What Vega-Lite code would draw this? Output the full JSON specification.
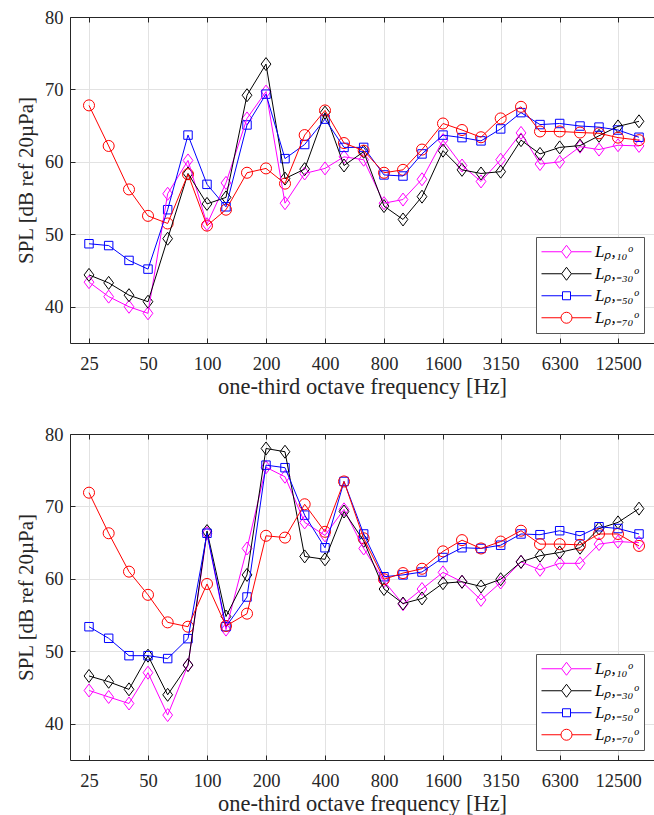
{
  "$schema": "https://vega.github.io/schema/vega-lite/v6.json",
  "padding": {"left": 15, "top": 8, "right": 0, "bottom": 0},
  "background": "white",
  "config": {
    "font": "Liberation Serif",
    "view": {"stroke": null},
    "axis": {
      "labelFont": "Liberation Serif", "labelFontSize": 18.5, "labelColor": "#262626",
      "titleFont": "Liberation Serif", "titleFontWeight": "normal", "titleColor": "#262626",
      "domainColor": "#262626", "domainWidth": 1, "tickColor": "#262626", "tickWidth": 1,
      "gridColor": "#e2e2e2", "gridWidth": 1, "labelOverlap": false, "labelFlush": false
    },
    "legend": {
      "orient": "bottom-right", "offset": 10, "padding": 5,
      "fillColor": "white", "strokeColor": "#555555", "strokeWidth": 1,
      "symbolSize": 2500, "symbolStrokeWidth": 1, "symbolOffset": 0,
      "labelFont": "Liberation Serif", "labelFontSize": 17, "labelFontStyle": "italic", "labelColor": "#000000",
      "labelOffset": 3, "clipHeight": 19.5, "rowPadding": 2
    }
  },
  "data": {"values": [
    {"p":"a","s":"Lₚ,₁₀ᵒ","f":25,"v":43.4},{"p":"a","s":"Lₚ,₁₀ᵒ","f":31.5,"v":41.4},{"p":"a","s":"Lₚ,₁₀ᵒ","f":40,"v":40.0},{"p":"a","s":"Lₚ,₁₀ᵒ","f":50,"v":39.1},{"p":"a","s":"Lₚ,₁₀ᵒ","f":63,"v":55.6},{"p":"a","s":"Lₚ,₁₀ᵒ","f":80,"v":60.2},{"p":"a","s":"Lₚ,₁₀ᵒ","f":100,"v":51.4},{"p":"a","s":"Lₚ,₁₀ᵒ","f":125,"v":57.1},{"p":"a","s":"Lₚ,₁₀ᵒ","f":160,"v":66.0},{"p":"a","s":"Lₚ,₁₀ᵒ","f":200,"v":69.7},{"p":"a","s":"Lₚ,₁₀ᵒ","f":250,"v":54.3},{"p":"a","s":"Lₚ,₁₀ᵒ","f":315,"v":58.4},{"p":"a","s":"Lₚ,₁₀ᵒ","f":400,"v":59.1},{"p":"a","s":"Lₚ,₁₀ᵒ","f":500,"v":60.7},{"p":"a","s":"Lₚ,₁₀ᵒ","f":630,"v":60.3},{"p":"a","s":"Lₚ,₁₀ᵒ","f":800,"v":54.3},{"p":"a","s":"Lₚ,₁₀ᵒ","f":1000,"v":54.8},{"p":"a","s":"Lₚ,₁₀ᵒ","f":1250,"v":57.6},{"p":"a","s":"Lₚ,₁₀ᵒ","f":1600,"v":63.0},{"p":"a","s":"Lₚ,₁₀ᵒ","f":2000,"v":59.5},{"p":"a","s":"Lₚ,₁₀ᵒ","f":2500,"v":57.3},{"p":"a","s":"Lₚ,₁₀ᵒ","f":3150,"v":60.3},{"p":"a","s":"Lₚ,₁₀ᵒ","f":4000,"v":64.0},{"p":"a","s":"Lₚ,₁₀ᵒ","f":5000,"v":59.7},{"p":"a","s":"Lₚ,₁₀ᵒ","f":6300,"v":60.0},{"p":"a","s":"Lₚ,₁₀ᵒ","f":8000,"v":62.1},{"p":"a","s":"Lₚ,₁₀ᵒ","f":10000,"v":61.7},{"p":"a","s":"Lₚ,₁₀ᵒ","f":12500,"v":62.3},{"p":"a","s":"Lₚ,₁₀ᵒ","f":16000,"v":62.2},
    {"p":"a","s":"Lₚ,₋₃₀ᵒ","f":25,"v":44.4},{"p":"a","s":"Lₚ,₋₃₀ᵒ","f":31.5,"v":43.3},{"p":"a","s":"Lₚ,₋₃₀ᵒ","f":40,"v":41.6},{"p":"a","s":"Lₚ,₋₃₀ᵒ","f":50,"v":40.7},{"p":"a","s":"Lₚ,₋₃₀ᵒ","f":63,"v":49.4},{"p":"a","s":"Lₚ,₋₃₀ᵒ","f":80,"v":58.4},{"p":"a","s":"Lₚ,₋₃₀ᵒ","f":100,"v":54.2},{"p":"a","s":"Lₚ,₋₃₀ᵒ","f":125,"v":55.1},{"p":"a","s":"Lₚ,₋₃₀ᵒ","f":160,"v":69.2},{"p":"a","s":"Lₚ,₋₃₀ᵒ","f":200,"v":73.5},{"p":"a","s":"Lₚ,₋₃₀ᵒ","f":250,"v":57.7},{"p":"a","s":"Lₚ,₋₃₀ᵒ","f":315,"v":59.0},{"p":"a","s":"Lₚ,₋₃₀ᵒ","f":400,"v":66.8},{"p":"a","s":"Lₚ,₋₃₀ᵒ","f":500,"v":59.5},{"p":"a","s":"Lₚ,₋₃₀ᵒ","f":630,"v":61.4},{"p":"a","s":"Lₚ,₋₃₀ᵒ","f":800,"v":53.9},{"p":"a","s":"Lₚ,₋₃₀ᵒ","f":1000,"v":52.05},{"p":"a","s":"Lₚ,₋₃₀ᵒ","f":1250,"v":55.2},{"p":"a","s":"Lₚ,₋₃₀ᵒ","f":1600,"v":61.55},{"p":"a","s":"Lₚ,₋₃₀ᵒ","f":2000,"v":58.9},{"p":"a","s":"Lₚ,₋₃₀ᵒ","f":2500,"v":58.4},{"p":"a","s":"Lₚ,₋₃₀ᵒ","f":3150,"v":58.65},{"p":"a","s":"Lₚ,₋₃₀ᵒ","f":4000,"v":63.0},{"p":"a","s":"Lₚ,₋₃₀ᵒ","f":5000,"v":61.1},{"p":"a","s":"Lₚ,₋₃₀ᵒ","f":6300,"v":62.0},{"p":"a","s":"Lₚ,₋₃₀ᵒ","f":8000,"v":62.25},{"p":"a","s":"Lₚ,₋₃₀ᵒ","f":10000,"v":63.6},{"p":"a","s":"Lₚ,₋₃₀ᵒ","f":12500,"v":64.9},{"p":"a","s":"Lₚ,₋₃₀ᵒ","f":16000,"v":65.6},
    {"p":"a","s":"Lₚ,₋₅₀ᵒ","f":25,"v":48.7},{"p":"a","s":"Lₚ,₋₅₀ᵒ","f":31.5,"v":48.45},{"p":"a","s":"Lₚ,₋₅₀ᵒ","f":40,"v":46.4},{"p":"a","s":"Lₚ,₋₅₀ᵒ","f":50,"v":45.2},{"p":"a","s":"Lₚ,₋₅₀ᵒ","f":63,"v":53.4},{"p":"a","s":"Lₚ,₋₅₀ᵒ","f":80,"v":63.7},{"p":"a","s":"Lₚ,₋₅₀ᵒ","f":100,"v":56.9},{"p":"a","s":"Lₚ,₋₅₀ᵒ","f":125,"v":53.8},{"p":"a","s":"Lₚ,₋₅₀ᵒ","f":160,"v":65.1},{"p":"a","s":"Lₚ,₋₅₀ᵒ","f":200,"v":69.35},{"p":"a","s":"Lₚ,₋₅₀ᵒ","f":250,"v":60.45},{"p":"a","s":"Lₚ,₋₅₀ᵒ","f":315,"v":62.4},{"p":"a","s":"Lₚ,₋₅₀ᵒ","f":400,"v":65.9},{"p":"a","s":"Lₚ,₋₅₀ᵒ","f":500,"v":62.0},{"p":"a","s":"Lₚ,₋₅₀ᵒ","f":630,"v":62.0},{"p":"a","s":"Lₚ,₋₅₀ᵒ","f":800,"v":58.2},{"p":"a","s":"Lₚ,₋₅₀ᵒ","f":1000,"v":58.05},{"p":"a","s":"Lₚ,₋₅₀ᵒ","f":1250,"v":61.1},{"p":"a","s":"Lₚ,₋₅₀ᵒ","f":1600,"v":63.7},{"p":"a","s":"Lₚ,₋₅₀ᵒ","f":2000,"v":63.35},{"p":"a","s":"Lₚ,₋₅₀ᵒ","f":2500,"v":62.9},{"p":"a","s":"Lₚ,₋₅₀ᵒ","f":3150,"v":64.55},{"p":"a","s":"Lₚ,₋₅₀ᵒ","f":4000,"v":66.8},{"p":"a","s":"Lₚ,₋₅₀ᵒ","f":5000,"v":65.15},{"p":"a","s":"Lₚ,₋₅₀ᵒ","f":6300,"v":65.3},{"p":"a","s":"Lₚ,₋₅₀ᵒ","f":8000,"v":64.95},{"p":"a","s":"Lₚ,₋₅₀ᵒ","f":10000,"v":64.8},{"p":"a","s":"Lₚ,₋₅₀ᵒ","f":12500,"v":64.4},{"p":"a","s":"Lₚ,₋₅₀ᵒ","f":16000,"v":63.4},
    {"p":"a","s":"Lₚ,₋₇₀ᵒ","f":25,"v":67.8},{"p":"a","s":"Lₚ,₋₇₀ᵒ","f":31.5,"v":62.2},{"p":"a","s":"Lₚ,₋₇₀ᵒ","f":40,"v":56.2},{"p":"a","s":"Lₚ,₋₇₀ᵒ","f":50,"v":52.55},{"p":"a","s":"Lₚ,₋₇₀ᵒ","f":63,"v":51.5},{"p":"a","s":"Lₚ,₋₇₀ᵒ","f":80,"v":58.3},{"p":"a","s":"Lₚ,₋₇₀ᵒ","f":100,"v":51.2},{"p":"a","s":"Lₚ,₋₇₀ᵒ","f":125,"v":53.4},{"p":"a","s":"Lₚ,₋₇₀ᵒ","f":160,"v":58.5},{"p":"a","s":"Lₚ,₋₇₀ᵒ","f":200,"v":59.1},{"p":"a","s":"Lₚ,₋₇₀ᵒ","f":250,"v":57.0},{"p":"a","s":"Lₚ,₋₇₀ᵒ","f":315,"v":63.7},{"p":"a","s":"Lₚ,₋₇₀ᵒ","f":400,"v":67.1},{"p":"a","s":"Lₚ,₋₇₀ᵒ","f":500,"v":62.6},{"p":"a","s":"Lₚ,₋₇₀ᵒ","f":630,"v":61.55},{"p":"a","s":"Lₚ,₋₇₀ᵒ","f":800,"v":58.5},{"p":"a","s":"Lₚ,₋₇₀ᵒ","f":1000,"v":58.9},{"p":"a","s":"Lₚ,₋₇₀ᵒ","f":1250,"v":61.7},{"p":"a","s":"Lₚ,₋₇₀ᵒ","f":1600,"v":65.3},{"p":"a","s":"Lₚ,₋₇₀ᵒ","f":2000,"v":64.4},{"p":"a","s":"Lₚ,₋₇₀ᵒ","f":2500,"v":63.4},{"p":"a","s":"Lₚ,₋₇₀ᵒ","f":3150,"v":66.0},{"p":"a","s":"Lₚ,₋₇₀ᵒ","f":4000,"v":67.6},{"p":"a","s":"Lₚ,₋₇₀ᵒ","f":5000,"v":64.2},{"p":"a","s":"Lₚ,₋₇₀ᵒ","f":6300,"v":64.2},{"p":"a","s":"Lₚ,₋₇₀ᵒ","f":8000,"v":64.05},{"p":"a","s":"Lₚ,₋₇₀ᵒ","f":10000,"v":63.95},{"p":"a","s":"Lₚ,₋₇₀ᵒ","f":12500,"v":63.35},{"p":"a","s":"Lₚ,₋₇₀ᵒ","f":16000,"v":63.0},
    {"p":"b","s":"Lₚ,₁₀ᵒ","f":25,"v":44.6},{"p":"b","s":"Lₚ,₁₀ᵒ","f":31.5,"v":43.7},{"p":"b","s":"Lₚ,₁₀ᵒ","f":40,"v":42.8},{"p":"b","s":"Lₚ,₁₀ᵒ","f":50,"v":47.05},{"p":"b","s":"Lₚ,₁₀ᵒ","f":63,"v":41.2},{"p":"b","s":"Lₚ,₁₀ᵒ","f":80,"v":48.1},{"p":"b","s":"Lₚ,₁₀ᵒ","f":100,"v":66.3},{"p":"b","s":"Lₚ,₁₀ᵒ","f":125,"v":53.0},{"p":"b","s":"Lₚ,₁₀ᵒ","f":160,"v":64.2},{"p":"b","s":"Lₚ,₁₀ᵒ","f":200,"v":75.4},{"p":"b","s":"Lₚ,₁₀ᵒ","f":250,"v":74.1},{"p":"b","s":"Lₚ,₁₀ᵒ","f":315,"v":67.8},{"p":"b","s":"Lₚ,₁₀ᵒ","f":400,"v":66.0},{"p":"b","s":"Lₚ,₁₀ᵒ","f":500,"v":69.6},{"p":"b","s":"Lₚ,₁₀ᵒ","f":630,"v":64.2},{"p":"b","s":"Lₚ,₁₀ᵒ","f":800,"v":59.7},{"p":"b","s":"Lₚ,₁₀ᵒ","f":1000,"v":56.5},{"p":"b","s":"Lₚ,₁₀ᵒ","f":1250,"v":58.6},{"p":"b","s":"Lₚ,₁₀ᵒ","f":1600,"v":60.9},{"p":"b","s":"Lₚ,₁₀ᵒ","f":2000,"v":59.6},{"p":"b","s":"Lₚ,₁₀ᵒ","f":2500,"v":57.1},{"p":"b","s":"Lₚ,₁₀ᵒ","f":3150,"v":59.5},{"p":"b","s":"Lₚ,₁₀ᵒ","f":4000,"v":62.35},{"p":"b","s":"Lₚ,₁₀ᵒ","f":5000,"v":61.25},{"p":"b","s":"Lₚ,₁₀ᵒ","f":6300,"v":62.15},{"p":"b","s":"Lₚ,₁₀ᵒ","f":8000,"v":62.15},{"p":"b","s":"Lₚ,₁₀ᵒ","f":10000,"v":64.8},{"p":"b","s":"Lₚ,₁₀ᵒ","f":12500,"v":65.15},{"p":"b","s":"Lₚ,₁₀ᵒ","f":16000,"v":65.0},
    {"p":"b","s":"Lₚ,₋₃₀ᵒ","f":25,"v":46.6},{"p":"b","s":"Lₚ,₋₃₀ᵒ","f":31.5,"v":45.8},{"p":"b","s":"Lₚ,₋₃₀ᵒ","f":40,"v":44.75},{"p":"b","s":"Lₚ,₋₃₀ᵒ","f":50,"v":49.4},{"p":"b","s":"Lₚ,₋₃₀ᵒ","f":63,"v":44.0},{"p":"b","s":"Lₚ,₋₃₀ᵒ","f":80,"v":48.1},{"p":"b","s":"Lₚ,₋₃₀ᵒ","f":100,"v":66.6},{"p":"b","s":"Lₚ,₋₃₀ᵒ","f":125,"v":54.8},{"p":"b","s":"Lₚ,₋₃₀ᵒ","f":160,"v":60.55},{"p":"b","s":"Lₚ,₋₃₀ᵒ","f":200,"v":78.0},{"p":"b","s":"Lₚ,₋₃₀ᵒ","f":250,"v":77.55},{"p":"b","s":"Lₚ,₋₃₀ᵒ","f":315,"v":63.1},{"p":"b","s":"Lₚ,₋₃₀ᵒ","f":400,"v":62.7},{"p":"b","s":"Lₚ,₋₃₀ᵒ","f":500,"v":69.3},{"p":"b","s":"Lₚ,₋₃₀ᵒ","f":630,"v":65.25},{"p":"b","s":"Lₚ,₋₃₀ᵒ","f":800,"v":58.6},{"p":"b","s":"Lₚ,₋₃₀ᵒ","f":1000,"v":56.6},{"p":"b","s":"Lₚ,₋₃₀ᵒ","f":1250,"v":57.3},{"p":"b","s":"Lₚ,₋₃₀ᵒ","f":1600,"v":59.4},{"p":"b","s":"Lₚ,₋₃₀ᵒ","f":2000,"v":59.6},{"p":"b","s":"Lₚ,₋₃₀ᵒ","f":2500,"v":58.95},{"p":"b","s":"Lₚ,₋₃₀ᵒ","f":3150,"v":59.95},{"p":"b","s":"Lₚ,₋₃₀ᵒ","f":4000,"v":62.35},{"p":"b","s":"Lₚ,₋₃₀ᵒ","f":5000,"v":63.2},{"p":"b","s":"Lₚ,₋₃₀ᵒ","f":6300,"v":63.65},{"p":"b","s":"Lₚ,₋₃₀ᵒ","f":8000,"v":64.3},{"p":"b","s":"Lₚ,₋₃₀ᵒ","f":10000,"v":66.95},{"p":"b","s":"Lₚ,₋₃₀ᵒ","f":12500,"v":67.8},{"p":"b","s":"Lₚ,₋₃₀ᵒ","f":16000,"v":69.7},
    {"p":"b","s":"Lₚ,₋₅₀ᵒ","f":25,"v":53.4},{"p":"b","s":"Lₚ,₋₅₀ᵒ","f":31.5,"v":51.8},{"p":"b","s":"Lₚ,₋₅₀ᵒ","f":40,"v":49.4},{"p":"b","s":"Lₚ,₋₅₀ᵒ","f":50,"v":49.4},{"p":"b","s":"Lₚ,₋₅₀ᵒ","f":63,"v":49.0},{"p":"b","s":"Lₚ,₋₅₀ᵒ","f":80,"v":51.75},{"p":"b","s":"Lₚ,₋₅₀ᵒ","f":100,"v":66.3},{"p":"b","s":"Lₚ,₋₅₀ᵒ","f":125,"v":53.4},{"p":"b","s":"Lₚ,₋₅₀ᵒ","f":160,"v":57.5},{"p":"b","s":"Lₚ,₋₅₀ᵒ","f":200,"v":75.7},{"p":"b","s":"Lₚ,₋₅₀ᵒ","f":250,"v":75.35},{"p":"b","s":"Lₚ,₋₅₀ᵒ","f":315,"v":68.8},{"p":"b","s":"Lₚ,₋₅₀ᵒ","f":400,"v":64.3},{"p":"b","s":"Lₚ,₋₅₀ᵒ","f":500,"v":73.45},{"p":"b","s":"Lₚ,₋₅₀ᵒ","f":630,"v":66.2},{"p":"b","s":"Lₚ,₋₅₀ᵒ","f":800,"v":60.3},{"p":"b","s":"Lₚ,₋₅₀ᵒ","f":1000,"v":60.55},{"p":"b","s":"Lₚ,₋₅₀ᵒ","f":1250,"v":60.95},{"p":"b","s":"Lₚ,₋₅₀ᵒ","f":1600,"v":62.95},{"p":"b","s":"Lₚ,₋₅₀ᵒ","f":2000,"v":64.3},{"p":"b","s":"Lₚ,₋₅₀ᵒ","f":2500,"v":64.2},{"p":"b","s":"Lₚ,₋₅₀ᵒ","f":3150,"v":64.65},{"p":"b","s":"Lₚ,₋₅₀ᵒ","f":4000,"v":66.2},{"p":"b","s":"Lₚ,₋₅₀ᵒ","f":5000,"v":66.1},{"p":"b","s":"Lₚ,₋₅₀ᵒ","f":6300,"v":66.65},{"p":"b","s":"Lₚ,₋₅₀ᵒ","f":8000,"v":65.95},{"p":"b","s":"Lₚ,₋₅₀ᵒ","f":10000,"v":67.2},{"p":"b","s":"Lₚ,₋₅₀ᵒ","f":12500,"v":66.95},{"p":"b","s":"Lₚ,₋₅₀ᵒ","f":16000,"v":66.2},
    {"p":"b","s":"Lₚ,₋₇₀ᵒ","f":25,"v":71.9},{"p":"b","s":"Lₚ,₋₇₀ᵒ","f":31.5,"v":66.3},{"p":"b","s":"Lₚ,₋₇₀ᵒ","f":40,"v":61.0},{"p":"b","s":"Lₚ,₋₇₀ᵒ","f":50,"v":57.8},{"p":"b","s":"Lₚ,₋₇₀ᵒ","f":63,"v":54.0},{"p":"b","s":"Lₚ,₋₇₀ᵒ","f":80,"v":53.4},{"p":"b","s":"Lₚ,₋₇₀ᵒ","f":100,"v":59.3},{"p":"b","s":"Lₚ,₋₇₀ᵒ","f":125,"v":53.5},{"p":"b","s":"Lₚ,₋₇₀ᵒ","f":160,"v":55.2},{"p":"b","s":"Lₚ,₋₇₀ᵒ","f":200,"v":65.95},{"p":"b","s":"Lₚ,₋₇₀ᵒ","f":250,"v":65.7},{"p":"b","s":"Lₚ,₋₇₀ᵒ","f":315,"v":70.3},{"p":"b","s":"Lₚ,₋₇₀ᵒ","f":400,"v":66.5},{"p":"b","s":"Lₚ,₋₇₀ᵒ","f":500,"v":73.45},{"p":"b","s":"Lₚ,₋₇₀ᵒ","f":630,"v":65.6},{"p":"b","s":"Lₚ,₋₇₀ᵒ","f":800,"v":59.95},{"p":"b","s":"Lₚ,₋₇₀ᵒ","f":1000,"v":60.8},{"p":"b","s":"Lₚ,₋₇₀ᵒ","f":1250,"v":61.4},{"p":"b","s":"Lₚ,₋₇₀ᵒ","f":1600,"v":63.8},{"p":"b","s":"Lₚ,₋₇₀ᵒ","f":2000,"v":65.35},{"p":"b","s":"Lₚ,₋₇₀ᵒ","f":2500,"v":64.2},{"p":"b","s":"Lₚ,₋₇₀ᵒ","f":3150,"v":65.15},{"p":"b","s":"Lₚ,₋₇₀ᵒ","f":4000,"v":66.65},{"p":"b","s":"Lₚ,₋₇₀ᵒ","f":5000,"v":64.8},{"p":"b","s":"Lₚ,₋₇₀ᵒ","f":6300,"v":64.8},{"p":"b","s":"Lₚ,₋₇₀ᵒ","f":8000,"v":64.7},{"p":"b","s":"Lₚ,₋₇₀ᵒ","f":10000,"v":66.2},{"p":"b","s":"Lₚ,₋₇₀ᵒ","f":12500,"v":66.2},{"p":"b","s":"Lₚ,₋₇₀ᵒ","f":16000,"v":64.55}
  ]},
  "spacing": 27,
  "resolve": {
    "scale": {"color": "independent", "shape": "independent"},
    "legend": {"color": "independent", "shape": "independent"}
  },
  "vconcat": [
    {
      "width": 584, "height": 326,
      "transform": [{"filter": "datum.p === 'a'"}],
      "resolve": {"axis": {"x": "independent"}},
      "layer": [
        {
          "mark": {"type": "point", "filled": false, "size": 169, "strokeWidth": 1, "opacity": 1},
          "encoding": {
            "x": {"field": "f", "type": "quantitative",
              "scale": {"type": "log", "domain": [20, 19080], "nice": false},
              "axis": {"orient": "top", "labels": false, "grid": false, "title": null, "tickSize": -5,
                "values": [25, 50, 100, 200, 400, 800, 1600, 3150, 6300, 12500]}},
            "y": {"field": "v", "type": "quantitative",
              "scale": {"domain": [35, 80], "nice": false, "zero": false},
              "axis": {"values": [40, 50, 60, 70, 80], "title": "SPL [dB ref 20µPa]", "titleFontSize": 21,
                "titlePadding": 8, "grid": true, "tickSize": -5, "labelPadding": 12}},
            "color": {"field": "s", "type": "nominal",
              "scale": {"domain": ["Lₚ,₁₀ᵒ", "Lₚ,₋₃₀ᵒ", "Lₚ,₋₅₀ᵒ", "Lₚ,₋₇₀ᵒ"], "range": ["#ff00ff", "#000000", "#0000ff", "#ff0000"]},
              "legend": {"title": null,
                "encode": {"symbols": {"shape": {
                  "condition": [
                    {"test": "datum.value === 'Lₚ,₋₅₀ᵒ'", "value": "M-1,0H-0.16M0.16,0H1M-0.16,-0.16H0.16V0.16H-0.16Z"},
                    {"test": "datum.value === 'Lₚ,₋₇₀ᵒ'", "value": "M-1,0H-0.22M0.22,0H1M-0.22,0A0.22,0.22,0,1,1,0.22,0A0.22,0.22,0,1,1,-0.22,0Z"}],
                  "value": "M-1,0H-0.195M0.195,0H1M0,-0.26L0.195,0L0,0.26L-0.195,0Z"}}},
                "encoding": {"symbols": {"shape": {
                  "condition": [
                    {"test": "datum.value === 'Lₚ,₋₅₀ᵒ'", "value": "M-1,0H-0.16M0.16,0H1M-0.16,-0.16H0.16V0.16H-0.16Z"},
                    {"test": "datum.value === 'Lₚ,₋₇₀ᵒ'", "value": "M-1,0H-0.22M0.22,0H1M-0.22,0A0.22,0.22,0,1,1,0.22,0A0.22,0.22,0,1,1,-0.22,0Z"}],
                  "value": "M-1,0H-0.195M0.195,0H1M0,-0.26L0.195,0L0,0.26L-0.195,0Z"}}}}},
            "shape": {"field": "s", "type": "nominal", "legend": null,
              "scale": {"domain": ["Lₚ,₋₇₀ᵒ", "Lₚ,₋₅₀ᵒ", "Lₚ,₋₃₀ᵒ", "Lₚ,₁₀ᵒ"],
                "range": ["M-0.85,0A0.85,0.85,0,1,1,0.85,0A0.85,0.85,0,1,1,-0.85,0Z", "M-0.65,-0.65H0.65V0.65H-0.65Z", "M0,-1L0.75,0L0,1L-0.75,0Z", "M0,-1L0.75,0L0,1L-0.75,0Z"]}}
          }
        },
        {
          "mark": {"type": "line", "strokeWidth": 1},
          "encoding": {
            "x": {"field": "f", "type": "quantitative",
              "axis": {"orient": "bottom", "values": [25, 50, 100, 200, 400, 800, 1600, 3150, 6300, 12500], "format": "d",
                "title": "one-third octave frequency [Hz]", "titleFontSize": 22.5, "titlePadding": 3,
                "grid": true, "tickSize": -5, "labelPadding": 16}},
            "y": {"field": "v", "type": "quantitative"},
            "color": {"field": "s", "type": "nominal"}
          }
        }
      ]
    },
    {
      "width": 584, "height": 326,
      "transform": [{"filter": "datum.p === 'b'"}],
      "resolve": {"axis": {"x": "independent"}},
      "layer": [
        {
          "mark": {"type": "point", "filled": false, "size": 169, "strokeWidth": 1, "opacity": 1},
          "encoding": {
            "x": {"field": "f", "type": "quantitative",
              "scale": {"type": "log", "domain": [20, 19080], "nice": false},
              "axis": {"orient": "top", "labels": false, "grid": false, "title": null, "tickSize": -5,
                "values": [25, 50, 100, 200, 400, 800, 1600, 3150, 6300, 12500]}},
            "y": {"field": "v", "type": "quantitative",
              "scale": {"domain": [35, 80], "nice": false, "zero": false},
              "axis": {"values": [40, 50, 60, 70, 80], "title": "SPL [dB ref 20µPa]", "titleFontSize": 21,
                "titlePadding": 8, "grid": true, "tickSize": -5, "labelPadding": 12}},
            "color": {"field": "s", "type": "nominal",
              "scale": {"domain": ["Lₚ,₁₀ᵒ", "Lₚ,₋₃₀ᵒ", "Lₚ,₋₅₀ᵒ", "Lₚ,₋₇₀ᵒ"], "range": ["#ff00ff", "#000000", "#0000ff", "#ff0000"]},
              "legend": {"title": null,
                "encode": {"symbols": {"shape": {
                  "condition": [
                    {"test": "datum.value === 'Lₚ,₋₅₀ᵒ'", "value": "M-1,0H-0.16M0.16,0H1M-0.16,-0.16H0.16V0.16H-0.16Z"},
                    {"test": "datum.value === 'Lₚ,₋₇₀ᵒ'", "value": "M-1,0H-0.22M0.22,0H1M-0.22,0A0.22,0.22,0,1,1,0.22,0A0.22,0.22,0,1,1,-0.22,0Z"}],
                  "value": "M-1,0H-0.195M0.195,0H1M0,-0.26L0.195,0L0,0.26L-0.195,0Z"}}},
                "encoding": {"symbols": {"shape": {
                  "condition": [
                    {"test": "datum.value === 'Lₚ,₋₅₀ᵒ'", "value": "M-1,0H-0.16M0.16,0H1M-0.16,-0.16H0.16V0.16H-0.16Z"},
                    {"test": "datum.value === 'Lₚ,₋₇₀ᵒ'", "value": "M-1,0H-0.22M0.22,0H1M-0.22,0A0.22,0.22,0,1,1,0.22,0A0.22,0.22,0,1,1,-0.22,0Z"}],
                  "value": "M-1,0H-0.195M0.195,0H1M0,-0.26L0.195,0L0,0.26L-0.195,0Z"}}}}},
            "shape": {"field": "s", "type": "nominal", "legend": null,
              "scale": {"domain": ["Lₚ,₋₇₀ᵒ", "Lₚ,₋₅₀ᵒ", "Lₚ,₋₃₀ᵒ", "Lₚ,₁₀ᵒ"],
                "range": ["M-0.85,0A0.85,0.85,0,1,1,0.85,0A0.85,0.85,0,1,1,-0.85,0Z", "M-0.65,-0.65H0.65V0.65H-0.65Z", "M0,-1L0.75,0L0,1L-0.75,0Z", "M0,-1L0.75,0L0,1L-0.75,0Z"]}}
          }
        },
        {
          "mark": {"type": "line", "strokeWidth": 1},
          "encoding": {
            "x": {"field": "f", "type": "quantitative",
              "axis": {"orient": "bottom", "values": [25, 50, 100, 200, 400, 800, 1600, 3150, 6300, 12500], "format": "d",
                "title": "one-third octave frequency [Hz]", "titleFontSize": 22.5, "titlePadding": 3,
                "grid": true, "tickSize": -5, "labelPadding": 16}},
            "y": {"field": "v", "type": "quantitative"},
            "color": {"field": "s", "type": "nominal"}
          }
        }
      ]
    }
  ]
}
